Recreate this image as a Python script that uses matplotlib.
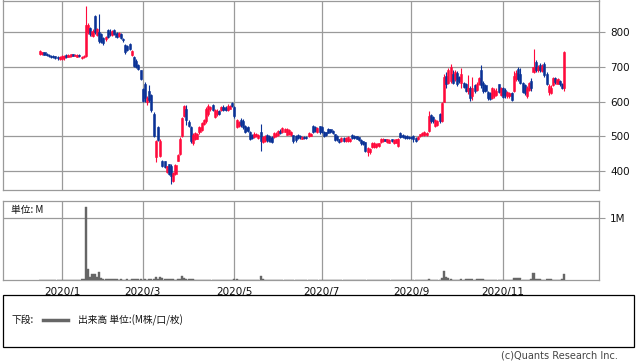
import numpy as np
import pandas as pd
import matplotlib
matplotlib.use('Agg')
import matplotlib.pyplot as plt
from matplotlib.patches import Rectangle
from matplotlib.lines import Line2D

# Datos diarios (OHLC), desde 2019/12/17
opens = [737, 738, 742, 738, 735, 732, 731, 730, 728, 724,
         723, 725, 733, 729, 731, 736, 732, 729, 734, 726,
         728, 730, 800, 812, 790, 845, 792, 800, 795, 782,
         780, 805, 800, 792, 805, 797, 788, 795, 780, 762,
         760, 765, 735, 728, 718, 705, 690, 636, 652, 598,
         630, 618, 566, 440, 526, 445, 430, 428, 398, 420,
         415, 372, 392, 430, 450, 500, 558, 578, 543, 528,
         480, 492, 494, 512, 518, 535, 545, 565, 580, 590,
         557, 565, 572, 575, 586, 583, 575, 580, 596, 585,
         528, 530, 548, 545, 530, 528, 512, 505, 497, 500,
         496, 514, 485, 487, 503, 500, 497, 497, 500, 504,
         517, 512, 514, 505, 506, 504, 503, 500, 505, 502,
         494, 499, 498, 500, 502, 530, 528, 512, 530, 528,
         513, 512, 521, 520, 515, 506, 502, 492, 487, 496,
         487, 488, 486, 503, 502, 500, 497, 491, 486, 483,
         455, 455, 470, 470, 470, 472, 484, 486, 492, 484,
         482, 492, 481, 482, 472, 510, 505, 502, 500, 499,
         498, 500, 496, 492, 500, 503, 504, 505, 516, 563,
         556, 530, 532, 565, 545, 600, 675, 655, 660, 680,
         665, 683, 672, 655, 654, 650, 630, 640, 615, 648,
         635, 652, 690, 655, 648, 628, 625, 612, 615, 620,
         650, 618, 640, 635, 615, 616, 626, 630, 665, 695,
         680, 655, 648, 615, 635, 660, 686, 715, 690, 705,
         688, 708, 680, 628, 625, 648, 668, 652, 660, 652,
         640]
highs = [750, 744, 744, 740, 737, 734, 733, 731, 730, 732,
         733, 734, 736, 737, 738, 738, 736, 737, 736, 732,
         735, 874, 825, 815, 808, 850, 812, 852, 798, 786,
         790, 808, 808, 806, 808, 800, 800, 797, 782, 765,
         762, 768, 749, 730, 722, 708, 692, 640, 656, 615,
         648, 622, 570, 491, 530, 492, 432, 430, 416, 422,
         420, 398, 421, 450, 497, 557, 591, 590, 546, 530,
         510, 512, 510, 530, 543, 550, 586, 592, 588, 593,
         580, 578, 575, 588, 590, 587, 592, 590, 600, 588,
         550, 545, 552, 550, 532, 530, 515, 508, 512, 510,
         506, 535, 500, 504, 506, 503, 500, 513, 512, 518,
         520, 527, 525, 524, 522, 515, 505, 503, 508, 505,
         500, 502, 500, 512, 510, 532, 530, 527, 531, 530,
         515, 514, 523, 522, 518, 508, 505, 494, 498, 498,
         499, 500, 495, 506, 504, 502, 499, 493, 488, 485,
         470, 468, 484, 483, 481, 482, 495, 496, 494, 494,
         492, 494, 492, 494, 496, 514, 508, 505, 503, 501,
         500, 503, 498, 500, 508, 512, 515, 512, 572, 566,
         560, 550, 548, 568, 600, 680, 685, 698, 707, 690,
         690, 688, 675, 697, 657, 653, 678, 645, 672, 652,
         656, 672, 706, 660, 652, 632, 628, 642, 640, 638,
         652, 642, 642, 640, 630, 628, 628, 687, 690, 700,
         697, 658, 650, 645, 658, 668, 751, 720, 705, 710,
         708, 714, 685, 650, 648, 672, 672, 668, 662, 655,
         746]
lows = [734, 735, 733, 731, 728, 727, 726, 724, 721, 720,
        719, 721, 727, 728, 729, 730, 730, 728, 728, 723,
        725, 728, 795, 790, 786, 795, 790, 768, 770, 762,
        775, 782, 790, 790, 792, 783, 785, 780, 773, 738,
        745, 748, 732, 700, 696, 690, 662, 598, 598, 591,
        600, 570, 497, 426, 486, 440, 411, 410, 396, 390,
        363, 370, 390, 428, 448, 498, 556, 534, 528, 480,
        476, 490, 492, 508, 515, 532, 540, 560, 572, 572,
        554, 560, 562, 572, 572, 572, 572, 578, 585, 552,
        525, 528, 528, 522, 510, 512, 490, 492, 495, 497,
        494, 457, 482, 484, 485, 484, 481, 495, 497, 502,
        507, 510, 512, 503, 504, 502, 482, 485, 492, 494,
        492, 494, 494, 498, 500, 510, 512, 510, 508, 510,
        498, 500, 509, 510, 508, 486, 488, 481, 485, 484,
        485, 485, 484, 492, 494, 492, 487, 476, 474, 454,
        443, 450, 468, 468, 468, 470, 482, 484, 486, 482,
        480, 484, 479, 480, 469, 495, 496, 493, 494, 494,
        492, 484, 484, 490, 498, 501, 502, 502, 514, 540,
        540, 528, 530, 540, 542, 598, 640, 652, 655, 650,
        660, 645, 655, 640, 638, 628, 622, 603, 605, 625,
        630, 648, 640, 625, 628, 604, 604, 608, 610, 615,
        624, 615, 610, 612, 612, 612, 602, 628, 660, 660,
        650, 625, 620, 610, 630, 630, 682, 685, 686, 685,
        684, 672, 648, 620, 622, 645, 652, 650, 646, 636,
        632]
closes = [746, 742, 735, 733, 730, 729, 728, 727, 726, 729,
          730, 731, 729, 735, 736, 732, 734, 735, 730, 729,
          732, 820, 820, 795, 804, 800, 808, 775, 772, 770,
          787, 785, 795, 804, 795, 786, 797, 782, 776, 742,
          750, 752, 747, 702, 699, 693, 664, 602, 610, 612,
          605, 575, 500, 488, 490, 486, 414, 413, 414, 393,
          385, 396, 419, 448, 494, 553, 588, 548, 531, 486,
          505, 510, 508, 527, 540, 548, 580, 588, 584, 575,
          576, 572, 565, 585, 575, 576, 588, 587, 588, 558,
          547, 542, 532, 526, 514, 515, 494, 496, 508, 507,
          503, 488, 497, 500, 489, 487, 484, 510, 508, 515,
          510, 524, 522, 520, 518, 512, 486, 490, 495, 497,
          498, 496, 495, 510, 508, 514, 515, 525, 512, 514,
          501, 503, 511, 513, 510, 490, 492, 484, 496, 487,
          496, 497, 494, 495, 496, 494, 490, 480, 478, 458,
          468, 465, 482, 480, 479, 480, 493, 494, 488, 492,
          490, 486, 490, 492, 494, 498, 499, 496, 496, 496,
          495, 494, 488, 497, 506, 510, 512, 510, 560, 545,
          545, 547, 545, 545, 595, 670, 650, 690, 700, 655,
          685, 650, 660, 680, 642, 632, 640, 610, 640, 630,
          652, 668, 648, 630, 632, 610, 608, 638, 635, 632,
          628, 640, 614, 618, 628, 626, 606, 675, 683, 665,
          655, 628, 625, 640, 655, 640, 700, 690, 700, 690,
          702, 678, 652, 645, 640, 668, 656, 664, 650, 640,
          742]
# Volumen (M)
volume = [0.004, 0.003, 0.003, 0.002, 0.002, 0.003, 0.002, 0.002, 0.003, 0.004,
          0.004, 0.003, 0.003, 0.004, 0.003, 0.003, 0.004, 0.003, 0.006, 0.015,
          0.02, 1.18, 0.18, 0.05, 0.10, 0.09, 0.045, 0.13, 0.03, 0.015,
          0.012, 0.015, 0.01, 0.012, 0.015, 0.01, 0.008, 0.01, 0.006, 0.008,
          0.01, 0.006, 0.012, 0.015, 0.014, 0.012, 0.01, 0.006, 0.01, 0.008,
          0.01, 0.012, 0.02, 0.045, 0.02, 0.045, 0.04, 0.015, 0.02, 0.01,
          0.012, 0.01, 0.008, 0.01, 0.012, 0.065, 0.03, 0.02, 0.01, 0.015,
          0.012, 0.006, 0.005, 0.004, 0.005, 0.004, 0.006, 0.005, 0.004, 0.004,
          0.005, 0.004, 0.003, 0.004, 0.004, 0.003, 0.004, 0.004, 0.005, 0.012,
          0.01, 0.004, 0.003, 0.004, 0.003, 0.004, 0.003, 0.003, 0.004, 0.004,
          0.006, 0.07, 0.01, 0.004, 0.003, 0.008, 0.004, 0.003, 0.003, 0.004,
          0.003, 0.004, 0.003, 0.003, 0.004, 0.003, 0.004, 0.003, 0.003, 0.002,
          0.003, 0.002, 0.002, 0.003, 0.003, 0.004, 0.003, 0.003, 0.004, 0.003,
          0.003, 0.002, 0.003, 0.003, 0.002, 0.003, 0.003, 0.002, 0.003, 0.002,
          0.002, 0.003, 0.002, 0.003, 0.002, 0.002, 0.003, 0.003, 0.002, 0.004,
          0.004, 0.003, 0.003, 0.002, 0.003, 0.002, 0.003, 0.002, 0.002, 0.003,
          0.002, 0.003, 0.002, 0.002, 0.004, 0.005, 0.003, 0.002, 0.003, 0.002,
          0.003, 0.002, 0.003, 0.002, 0.003, 0.004, 0.003, 0.004, 0.012, 0.006,
          0.005, 0.004, 0.004, 0.006, 0.04, 0.145, 0.05, 0.03, 0.02, 0.008,
          0.006, 0.005, 0.006, 0.02, 0.006, 0.015, 0.02, 0.02, 0.018, 0.006,
          0.015, 0.015, 0.016, 0.015, 0.006, 0.005, 0.006, 0.005, 0.004, 0.004,
          0.005, 0.004, 0.005, 0.004, 0.004, 0.005, 0.006, 0.03, 0.03, 0.03,
          0.028, 0.006, 0.005, 0.006, 0.008, 0.01, 0.12, 0.015, 0.01, 0.02,
          0.008, 0.006, 0.015, 0.015, 0.012, 0.006, 0.006, 0.005, 0.008, 0.01,
          0.1]

price_ticks = [400, 500, 600, 700, 800]
jp_holidays = ['2019-12-31', '2020-01-01', '2020-01-02', '2020-01-03', '2020-01-13',
               '2020-02-11', '2020-02-24', '2020-03-20', '2020-04-29', '2020-05-04',
               '2020-05-05', '2020-05-06', '2020-07-23', '2020-07-24', '2020-08-10',
               '2020-09-21', '2020-09-22', '2020-11-03', '2020-11-23']

RED = '#ff0a3c'
BLUE = '#0a3296'
GRID = '#9a9a9a'
JP = ['Noto Sans CJK JP', 'DejaVu Sans']

o = np.array(opens, dtype=float)
h = np.array(highs, dtype=float)
l = np.array(lows, dtype=float)
c = np.array(closes, dtype=float)
v = np.array(volume, dtype=float)
x = np.arange(len(c))

# Calendario de días hábiles (TSE)
dates = pd.bdate_range('2019-12-17', periods=len(c), freq='C', holidays=jp_holidays)
tick_pos, tick_lab = [], []
for i in range(1, len(dates)):
    if dates[i].month != dates[i - 1].month and dates[i].month % 2 == 1:
        tick_pos.append(i)
        tick_lab.append(f'{dates[i].year}/{dates[i].month}')

fig = plt.figure(figsize=(6.38, 3.62), dpi=100)
ax1 = fig.add_axes([3 / 638, 1 - 190 / 362, 596 / 638, 189.5 / 362])
ax2 = fig.add_axes([3 / 638, 1 - 280 / 362, 596 / 638, 79 / 362])

xlim = (-17, 256)

# Velas
up = c >= o
col = np.where(up, RED, BLUE)
ax1.vlines(x, l, h, colors=col, linewidth=0.8, zorder=3)
body_bot = np.minimum(o, c)
body_h = np.maximum(np.abs(c - o), 1.5)
ax1.bar(x, body_h, bottom=body_bot, width=0.95, color=col, edgecolor=col,
        linewidth=0.4, zorder=4)

ax1.set_xlim(*xlim)
ax1.set_ylim(346, 891)
ax1.set_yticks(price_ticks)
ax1.set_xticks(tick_pos)
ax1.set_xticklabels([])
ax1.yaxis.tick_right()
ax1.tick_params(axis='y', length=4, width=0.8, color=GRID, pad=4, labelsize=7.5, labelcolor='#111111')
ax1.tick_params(axis='x', length=0)
ax1.grid(True, color=GRID, linewidth=0.9, zorder=0)

# Volumen
ax2.bar(x, v, width=0.95, color='#666666', edgecolor='#666666', linewidth=0.3, zorder=3)
ax2.set_xlim(*xlim)
ax2.set_ylim(0, 1.274)
ax2.set_yticks([1.0])
ax2.set_yticklabels(['1M'])
ax2.yaxis.tick_right()
ax2.tick_params(axis='y', length=4, width=0.8, color=GRID, pad=4, labelsize=7.5, labelcolor='#111111')
ax2.set_xticks(tick_pos)
ax2.set_xticklabels(tick_lab)
ax2.tick_params(axis='x', length=0, pad=5, labelsize=7.5, labelcolor='#111111')
ax2.grid(True, color=GRID, linewidth=0.9, zorder=0)
ax2.text(8 / 596, 0.89, '単位: M', transform=ax2.transAxes, fontsize=7, family=JP,
         va='center', ha='left', color='#111111')

for ax in (ax1, ax2):
    for s in ax.spines.values():
        s.set_color(GRID)
        s.set_linewidth(0.9)

# Leyenda inferior
fig.patches.append(Rectangle((3 / 638, 1 - 347 / 362), 631 / 638, 52 / 362,
                             transform=fig.transFigure, fill=False,
                             edgecolor='black', linewidth=0.9))
ly = 1 - 320 / 362
fig.text(12 / 638, ly, '下段:', fontsize=7, family=JP, va='center', ha='left', color='#111111')
fig.lines.append(Line2D([43 / 638, 68 / 638], [ly, ly], transform=fig.transFigure,
                        color='#666666', linewidth=2.5))
fig.text(78 / 638, ly, '出来高 単位:(M株/口/枚)', fontsize=7, family=JP,
         va='center', ha='left', color='#111111')
fig.text(618 / 638, 1 - 356 / 362, '(c)Quants Research Inc.', fontsize=7,
         va='center', ha='right', color='#444444')

fig.savefig('out.png', dpi=100)
